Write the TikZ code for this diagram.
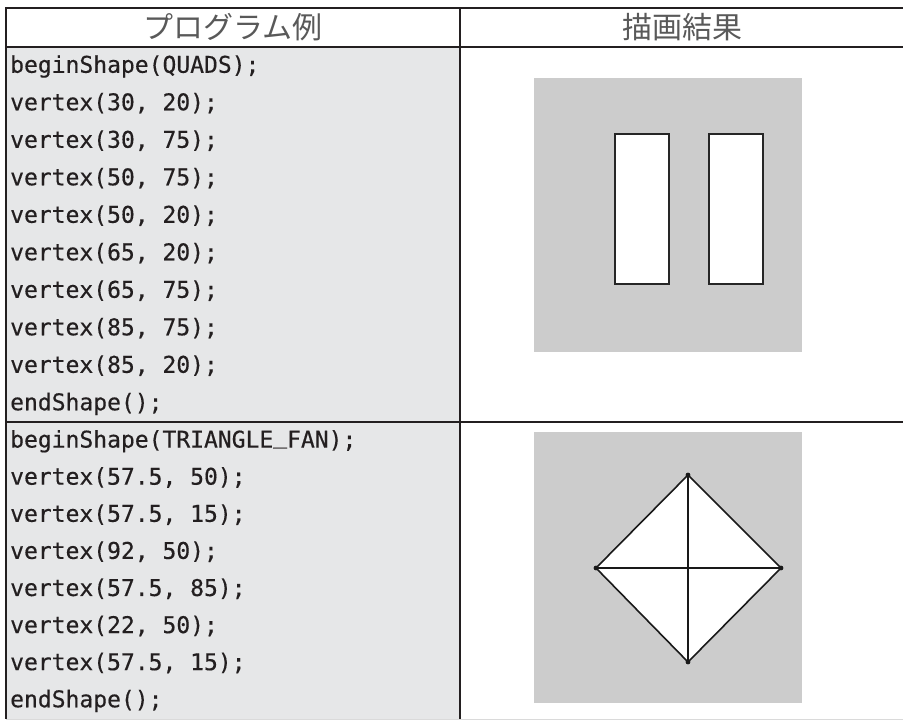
\documentclass[tikz,border=0pt]{standalone}
\usepackage{fontspec}
\newfontfamily\jpfont{Noto Sans CJK JP}
\newfontfamily\codefont{DejaVu Sans Mono}[FakeBold=0.4]
\definecolor{rulec}{HTML}{231F20}
\definecolor{codebg}{HTML}{E6E7E8}
\definecolor{canvasc}{HTML}{CCCCCC}
\definecolor{faint}{HTML}{DADADA}
\newcommand{\usc}{\raisebox{4.5pt}{\char95}}
\begin{document}
\begin{tikzpicture}[x=1pt,y=-1pt,
  code/.style={anchor=base west,inner sep=0pt,font=\codefont\fontsize{23}{23}\selectfont,text=rulec},
  hdr/.style={inner sep=0pt,font=\jpfont\fontsize{30}{30}\selectfont,text=black!65},
  border/.style={draw=rulec,line width=2pt},
  shapeline/.style={draw=black!85,line width=2.2pt},
  fanline/.style={draw=black!90,line width=2pt,line cap=round}]
\useasboundingbox (0,0) rectangle (903,720);
% backgrounds
\fill[codebg] (6,47) rectangle (460,719);
\draw[faint,line width=1.2pt] (6,719.2) -- (903,719.2);
% table rules
\draw[border] (5,8) -- (903,8);
\draw[border] (5,47) -- (903,47);
\draw[border] (5,422) -- (903,422);
\draw[border] (6,7) -- (6,719);
\draw[border] (460,7) -- (460,719);
% headers
\node[hdr] (h1) at (233,27.5) {プログラム例};
\node[hdr] (h2) at (682,27.5) {描画結果};
% code section 1
\foreach \t [count=\k from 0] in {beginShape(QUADS);,{vertex(30, 20);},{vertex(30, 75);},{vertex(50, 75);},{vertex(50, 20);},{vertex(65, 20);},{vertex(65, 75);},{vertex(85, 75);},{vertex(85, 20);},endShape();}
  \node[code] (a\k) at (10,{47+37.5*\k+18.75+7}) {\t};
% code section 2
\foreach \t [count=\k from 0] in {beginShape(TRIANGLE\usc FAN);,{vertex(57.5, 50);},{vertex(57.5, 15);},{vertex(92, 50);},{vertex(57.5, 85);},{vertex(22, 50);},{vertex(57.5, 15);},endShape();}
  \node[code] (b\k) at (10,{422+37.1*\k+18.55+7}) {\t};
% canvas 1
\fill[canvasc] (534,78) rectangle (802,352);
\filldraw[fill=white,shapeline] (615,134) rectangle (669,284);
\filldraw[fill=white,shapeline] (709,134) rectangle (763,284);
% canvas 2
\fill[canvasc] (534,432) rectangle (802,703);
\coordinate (T) at (688,475);
\coordinate (R) at (781,568);
\coordinate (B) at (688,662);
\coordinate (L) at (596,568);
\coordinate (C) at (688,568);
\fill[white] (T) -- (R) -- (B) -- (L) -- cycle;
\draw[fanline,line width=1.6pt] (T) -- (R) -- (B) -- (L) -- cycle;
\draw[fanline] (T) -- (B);
\draw[fanline] (L) -- (R);
\foreach \p in {T,R,B,L}
  \fill[black!90] (\p) circle (2.4);
\end{tikzpicture}
\end{document}
